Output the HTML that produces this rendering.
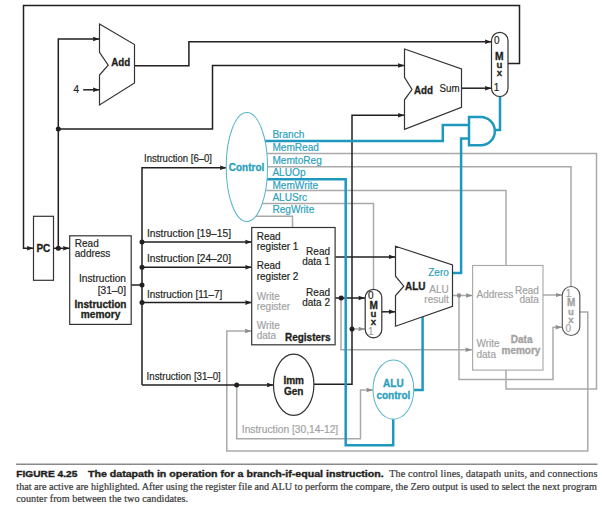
<!DOCTYPE html>
<html><head><meta charset="utf-8">
<style>
html,body{margin:0;padding:0;background:#fff;}
body{width:602px;height:508px;overflow:hidden;position:relative;}
svg{position:absolute;left:0;top:0;}
text{font-family:"Liberation Sans",sans-serif;}
.serif{font-family:"Liberation Serif",serif;}
</style></head>
<body>
<svg width="602" height="508" viewBox="0 0 602 508">
<defs>
<marker id="ak" markerWidth="7" markerHeight="6" refX="6.6" refY="3" orient="auto" markerUnits="userSpaceOnUse"><path d="M0,0.7 L6.6,3 L0,5.3 L0.6,3 z" fill="#231f20"/></marker>
<marker id="ag" markerWidth="7" markerHeight="6" refX="6.6" refY="3" orient="auto" markerUnits="userSpaceOnUse"><path d="M0,0.8 L6.6,3 L0,5.2 L0.6,3 z" fill="#8c8c8c"/></marker>
</defs>
<g fill="none" stroke="#aaaaaa" stroke-width="1.5">
<polyline points="247,153.5 596.5,153.5 596.5,389 506,389 506,370"/>
<polyline points="247,166.8 571,166.8 571,286.5"/>
<polyline points="247,190.5 506,190.5 506,265.5"/>
<polyline points="247,203.4 373.5,203.4 373.5,289.3"/>
<polyline points="247,216.3 292.5,216.3 292.5,228"/>
<polyline points="341,298 341,349.7 472,349.7" marker-end="url(#ag)"/>
<polyline points="452.5,295.5 472.5,295.5" marker-end="url(#ag)"/>
<polyline points="459,295.5 459,379.5 553,379.5 553,327.3 562,327.3" marker-end="url(#ag)"/>
<polyline points="543,295 562.3,295" marker-end="url(#ag)"/>
<polyline points="580,312 587.8,312 587.8,451 226.8,451 226.8,331 251.5,331" marker-end="url(#ag)"/>
<polyline points="352,329 365,329" marker-end="url(#ag)"/>
<polyline points="236.7,385 236.7,438.7 360.5,438.7 360.5,390 373,390" marker-end="url(#ag)"/>
</g>
<g fill="none" stroke="#231f20" stroke-width="1.5">
<polyline points="508,63.5 519.5,63.5 519.5,5.6 23.5,5.6 23.5,248.3 33.5,248.3" marker-end="url(#ak)"/>
<polyline points="53.5,248.3 69.6,248.3" marker-end="url(#ak)"/>
<polyline points="58.3,248.3 58.3,39 99.5,39" marker-end="url(#ak)"/>
<polyline points="58.3,129 212.5,129 212.5,65.6 404.5,65.6" marker-end="url(#ak)"/>
<polyline points="83.2,89.8 99.5,89.8" marker-end="url(#ak)"/>
<polyline points="134.5,65.7 188.9,65.7 188.9,41.8 491.5,41.8" marker-end="url(#ak)"/>
<polyline points="461.5,88.2 491.5,88.2" marker-end="url(#ak)"/>
<polyline points="131,285 142,285"/>
<polyline points="142,385 142,167.7 226.5,167.7" marker-end="url(#ak)"/>
<polyline points="142,385 273.5,385" marker-end="url(#ak)"/>
<polyline points="142,242 251.8,242" marker-end="url(#ak)"/>
<polyline points="142,267.3 251.8,267.3" marker-end="url(#ak)"/>
<polyline points="142,302.6 251.8,302.6" marker-end="url(#ak)"/>
<polyline points="313.8,384.3 352,384.3 352,115.2 404.5,115.2" marker-end="url(#ak)"/>
<polyline points="335.3,256.9 395.3,256.9" marker-end="url(#ak)"/>
<polyline points="335.3,298 365,298" marker-end="url(#ak)"/>
<polyline points="381.8,311.8 395.3,311.8" marker-end="url(#ak)"/>
</g>
<g fill="#231f20">
<circle cx="58.3" cy="248.3" r="2.5"/>
<circle cx="58.3" cy="129" r="2.5"/>
<circle cx="142" cy="242" r="2.5"/>
<circle cx="142" cy="267.3" r="2.5"/>
<circle cx="142" cy="285" r="2.5"/>
<circle cx="142" cy="302.6" r="2.5"/>
<circle cx="236.7" cy="385" r="2.5"/>
<circle cx="341.2" cy="298" r="2.5"/>
<circle cx="352" cy="329" r="2.5"/>
</g>
<circle cx="459" cy="295.5" r="2.2" fill="#8c8c8c"/>
<g fill="none" stroke="#1f98bd" stroke-width="2.5">
<polyline points="247,140.9 442.8,140.9 442.8,125 469,125"/>
<polyline points="452.5,273 461.1,273 461.1,138.4 469,138.4"/>
<polyline points="494,130 500,130 500,96.5"/>
<polyline points="247,179.3 345.7,179.3 345.7,445.3 393.2,445.3 393.2,419"/>
<polyline points="413.7,390 422.6,390 422.6,316.5"/>
<path d="M469,117 H480.7 A14.15,14.15 0 0 1 480.7,145.3 H469 Z"/>
</g>
<g fill="#fff" stroke="#333" stroke-width="1.2">
<polygon points="99.5,24 134.5,44.5 134.5,83 99.5,105 99.5,75 108.2,65.2 99.5,52.4"/>
<polygon points="404.5,49 461.5,69 461.5,107.4 404.5,129.4 404.5,99.8 412,89.5 404.5,77.4"/>
<polygon points="395.5,246.2 452.5,265 452.5,306.2 395.5,326.2 395.5,295.5 403.8,286.2 395.5,276.2"/>
<rect x="33.5" y="216.3" width="20" height="64"/>
<rect x="69.7" y="235.8" width="61.5" height="88.6"/>
<rect x="251.7" y="227.5" width="83.4" height="117.3"/>
<rect x="491.5" y="32.3" width="16.5" height="64.2" rx="8.25"/>
<rect x="365.2" y="289.3" width="16.6" height="48.5" rx="8.3"/>
<ellipse cx="293.7" cy="384.8" rx="20.2" ry="30.6"/>
</g>
<rect x="472.6" y="265.5" width="70.4" height="104.6" fill="#fff" stroke="#aaaaaa" stroke-width="1.15"/>
<rect x="562.3" y="286.5" width="17.5" height="49" rx="8.75" fill="#fff" stroke="#5a5a5a" stroke-width="1.2"/>
<g fill="#fff" stroke="#5cb6cb" stroke-width="1.05">
<ellipse cx="246.9" cy="167" rx="20.7" ry="54.5"/>
<ellipse cx="393.4" cy="389.6" rx="20.4" ry="29.6"/>
</g>
<text x="111.2" y="65.8" font-size="10" fill="#231f20" stroke="#231f20" stroke-width="0.3" font-weight="bold" textLength="19" lengthAdjust="spacingAndGlyphs">Add</text>
<text x="73.4" y="93.3" font-size="10" fill="#231f20" stroke="#231f20" stroke-width="0.18">4</text>
<text x="414" y="93.7" font-size="10" fill="#231f20" stroke="#231f20" stroke-width="0.3" font-weight="bold" textLength="19" lengthAdjust="spacingAndGlyphs">Add</text>
<text x="439.5" y="92" font-size="10" fill="#231f20" stroke="#231f20" stroke-width="0.18" textLength="20" lengthAdjust="spacingAndGlyphs">Sum</text>
<text x="496.8" y="43.5" font-size="10" fill="#231f20" stroke="#231f20" stroke-width="0.18" text-anchor="middle">0</text>
<text x="499.4" y="59.8" font-size="10.3" fill="#231f20" stroke="#231f20" stroke-width="0.3" text-anchor="middle" font-weight="bold">M</text>
<text x="499.4" y="68.4" font-size="9.6" fill="#231f20" stroke="#231f20" stroke-width="0.3" text-anchor="middle" font-weight="bold">u</text>
<text x="499.5" y="75.9" font-size="9.6" fill="#231f20" stroke="#231f20" stroke-width="0.3" text-anchor="middle" font-weight="bold">x</text>
<text x="496.6" y="90.8" font-size="10" fill="#231f20" stroke="#231f20" stroke-width="0.18" text-anchor="middle">1</text>
<text x="246.5" y="170.5" font-size="10" fill="#2ba0bd" stroke="#2ba0bd" stroke-width="0.3" text-anchor="middle" font-weight="bold">Control</text>
<text x="272.4" y="137.7" font-size="10.1" fill="#2ba0bd" stroke="#2ba0bd" stroke-width="0.18">Branch</text>
<text x="272.4" y="150.5" font-size="10.1" fill="#2ba0bd" stroke="#2ba0bd" stroke-width="0.18">MemRead</text>
<text x="272.4" y="163.7" font-size="10.1" fill="#2ba0bd" stroke="#2ba0bd" stroke-width="0.18">MemtoReg</text>
<text x="272.4" y="176.3" font-size="10.1" fill="#2ba0bd" stroke="#2ba0bd" stroke-width="0.18">ALUOp</text>
<text x="272.4" y="188.9" font-size="10.1" fill="#2ba0bd" stroke="#2ba0bd" stroke-width="0.18">MemWrite</text>
<text x="272.4" y="201" font-size="10.1" fill="#2ba0bd" stroke="#2ba0bd" stroke-width="0.18">ALUSrc</text>
<text x="272.4" y="213" font-size="10.1" fill="#2ba0bd" stroke="#2ba0bd" stroke-width="0.18">RegWrite</text>
<text x="144" y="162.4" font-size="10" fill="#231f20" stroke="#231f20" stroke-width="0.18" textLength="68" lengthAdjust="spacingAndGlyphs">Instruction [6–0]</text>
<text x="43.4" y="251.6" font-size="10" fill="#231f20" stroke="#231f20" stroke-width="0.3" text-anchor="middle" font-weight="bold">PC</text>
<text x="74.8" y="246.7" font-size="10" fill="#231f20" stroke="#231f20" stroke-width="0.18">Read</text>
<text x="74.8" y="256.6" font-size="10" fill="#231f20" stroke="#231f20" stroke-width="0.18">address</text>
<text x="126" y="282.1" font-size="10.2" fill="#231f20" stroke="#231f20" stroke-width="0.18" text-anchor="end">Instruction</text>
<text x="126" y="293.8" font-size="10.2" fill="#231f20" stroke="#231f20" stroke-width="0.18" text-anchor="end">[31–0]</text>
<text x="100.5" y="307.6" font-size="10" fill="#231f20" stroke="#231f20" stroke-width="0.3" text-anchor="middle" font-weight="bold" textLength="52" lengthAdjust="spacingAndGlyphs">Instruction</text>
<text x="100.5" y="318.2" font-size="10.2" fill="#231f20" stroke="#231f20" stroke-width="0.3" text-anchor="middle" font-weight="bold">memory</text>
<text x="147" y="236.6" font-size="10" fill="#231f20" stroke="#231f20" stroke-width="0.18" textLength="84" lengthAdjust="spacingAndGlyphs">Instruction [19–15]</text>
<text x="147" y="262" font-size="10" fill="#231f20" stroke="#231f20" stroke-width="0.18" textLength="84" lengthAdjust="spacingAndGlyphs">Instruction [24–20]</text>
<text x="147" y="297.7" font-size="10" fill="#231f20" stroke="#231f20" stroke-width="0.18" textLength="75.2" lengthAdjust="spacingAndGlyphs">Instruction [11–7]</text>
<text x="256.7" y="240.3" font-size="10" fill="#231f20" stroke="#231f20" stroke-width="0.18">Read</text>
<text x="256.7" y="250.1" font-size="10" fill="#231f20" stroke="#231f20" stroke-width="0.18">register 1</text>
<text x="256.7" y="269.3" font-size="10" fill="#231f20" stroke="#231f20" stroke-width="0.18">Read</text>
<text x="256.7" y="280" font-size="10" fill="#231f20" stroke="#231f20" stroke-width="0.18">register 2</text>
<text x="256.7" y="300" font-size="10" fill="#a2a2a2" stroke="#a2a2a2" stroke-width="0.18">Write</text>
<text x="256.7" y="310" font-size="10" fill="#a2a2a2" stroke="#a2a2a2" stroke-width="0.18">register</text>
<text x="256.7" y="329.4" font-size="10" fill="#a2a2a2" stroke="#a2a2a2" stroke-width="0.18">Write</text>
<text x="256.7" y="339" font-size="10" fill="#a2a2a2" stroke="#a2a2a2" stroke-width="0.18">data</text>
<text x="330" y="254.6" font-size="10" fill="#231f20" stroke="#231f20" stroke-width="0.18" text-anchor="end">Read</text>
<text x="330" y="264.6" font-size="10" fill="#231f20" stroke="#231f20" stroke-width="0.18" text-anchor="end">data 1</text>
<text x="330" y="295.9" font-size="10" fill="#231f20" stroke="#231f20" stroke-width="0.18" text-anchor="end">Read</text>
<text x="330" y="306.4" font-size="10" fill="#231f20" stroke="#231f20" stroke-width="0.18" text-anchor="end">data 2</text>
<text x="330.5" y="341" font-size="10" fill="#231f20" stroke="#231f20" stroke-width="0.3" text-anchor="end" font-weight="bold">Registers</text>
<text x="370.8" y="299" font-size="10" fill="#231f20" stroke="#231f20" stroke-width="0.18" text-anchor="middle">0</text>
<text x="373.6" y="309.2" font-size="10" fill="#231f20" stroke="#231f20" stroke-width="0.3" text-anchor="middle" font-weight="bold">M</text>
<text x="373.4" y="316.6" font-size="9.6" fill="#231f20" stroke="#231f20" stroke-width="0.3" text-anchor="middle" font-weight="bold">u</text>
<text x="373.4" y="324.9" font-size="9.6" fill="#231f20" stroke="#231f20" stroke-width="0.3" text-anchor="middle" font-weight="bold">x</text>
<text x="370.7" y="335" font-size="10" fill="#a2a2a2" stroke="#a2a2a2" stroke-width="0.18" text-anchor="middle">1</text>
<text x="448.8" y="275.7" font-size="10" fill="#2ba0bd" stroke="#2ba0bd" stroke-width="0.18" text-anchor="end">Zero</text>
<text x="405" y="290" font-size="10" fill="#231f20" stroke="#231f20" stroke-width="0.3" font-weight="bold">ALU</text>
<text x="448.8" y="293.1" font-size="10" fill="#a2a2a2" stroke="#a2a2a2" stroke-width="0.18" text-anchor="end">ALU</text>
<text x="448.8" y="303" font-size="10" fill="#a2a2a2" stroke="#a2a2a2" stroke-width="0.18" text-anchor="end">result</text>
<text x="476.5" y="298.1" font-size="10" fill="#a2a2a2" stroke="#a2a2a2" stroke-width="0.18">Address</text>
<text x="538.9" y="293.6" font-size="10" fill="#a2a2a2" stroke="#a2a2a2" stroke-width="0.18" text-anchor="end">Read</text>
<text x="538.9" y="303" font-size="10" fill="#a2a2a2" stroke="#a2a2a2" stroke-width="0.18" text-anchor="end">data</text>
<text x="476.5" y="347.3" font-size="10" fill="#a2a2a2" stroke="#a2a2a2" stroke-width="0.18">Write</text>
<text x="476.5" y="357.8" font-size="10" fill="#a2a2a2" stroke="#a2a2a2" stroke-width="0.18">data</text>
<text x="532.5" y="343.2" font-size="10" fill="#a2a2a2" stroke="#a2a2a2" stroke-width="0.3" text-anchor="end" font-weight="bold">Data</text>
<text x="540.4" y="353.8" font-size="10" fill="#a2a2a2" stroke="#a2a2a2" stroke-width="0.3" text-anchor="end" font-weight="bold">memory</text>
<text x="568.6" y="296.5" font-size="10" fill="#a2a2a2" stroke="#a2a2a2" stroke-width="0.18" text-anchor="middle">1</text>
<text x="571.2" y="306.2" font-size="10" fill="#a2a2a2" stroke="#a2a2a2" stroke-width="0.3" text-anchor="middle" font-weight="bold">M</text>
<text x="571" y="314.9" font-size="9.6" fill="#a2a2a2" stroke="#a2a2a2" stroke-width="0.3" text-anchor="middle" font-weight="bold">u</text>
<text x="571" y="323.1" font-size="9.6" fill="#a2a2a2" stroke="#a2a2a2" stroke-width="0.3" text-anchor="middle" font-weight="bold">x</text>
<text x="568.3" y="332" font-size="10" fill="#a2a2a2" stroke="#a2a2a2" stroke-width="0.18" text-anchor="middle">0</text>
<text x="146.6" y="380" font-size="10" fill="#231f20" stroke="#231f20" stroke-width="0.18" textLength="74.2" lengthAdjust="spacingAndGlyphs">Instruction [31–0]</text>
<text x="293.7" y="383.5" font-size="10" fill="#231f20" stroke="#231f20" stroke-width="0.3" text-anchor="middle" font-weight="bold">Imm</text>
<text x="293.7" y="395" font-size="10" fill="#231f20" stroke="#231f20" stroke-width="0.3" text-anchor="middle" font-weight="bold">Gen</text>
<text x="393.4" y="387" font-size="10" fill="#2ba0bd" stroke="#2ba0bd" stroke-width="0.3" text-anchor="middle" font-weight="bold">ALU</text>
<text x="393.4" y="398.7" font-size="10" fill="#2ba0bd" stroke="#2ba0bd" stroke-width="0.3" text-anchor="middle" font-weight="bold">control</text>
<text x="241.8" y="432.5" font-size="10" fill="#a2a2a2" stroke="#a2a2a2" stroke-width="0.18" textLength="96.4" lengthAdjust="spacingAndGlyphs">Instruction [30,14-12]</text>
<line x1="16" y1="464.2" x2="597.5" y2="464.2" stroke="#8a8a8a" stroke-width="1.4"/>
<text x="16.3" y="477" font-size="9.2" font-weight="bold" fill="#231f20" stroke="#231f20" stroke-width="0.35" textLength="61" lengthAdjust="spacingAndGlyphs">FIGURE 4.25</text>
<text x="88" y="477" font-size="9.2" font-weight="bold" fill="#231f20" stroke="#231f20" stroke-width="0.35" textLength="295.7" lengthAdjust="spacingAndGlyphs">The datapath in operation for a branch-if-equal instruction.</text>
<text class="serif" x="389.2" y="477.4" font-size="10.2" fill="#3b3b3b" stroke="#3b3b3b" stroke-width="0.22" textLength="208.3" lengthAdjust="spacing">The control lines, datapath units, and connections</text>
<text class="serif" x="16.3" y="489.7" font-size="10.2" fill="#3b3b3b" stroke="#3b3b3b" stroke-width="0.22" textLength="580.6" lengthAdjust="spacing">that are active are highlighted. After using the register file and ALU to perform the compare, the Zero output is used to select the next program</text>
<text class="serif" x="16.3" y="501.6" font-size="10.2" fill="#3b3b3b" stroke="#3b3b3b" stroke-width="0.22" textLength="171.8" lengthAdjust="spacing">counter from between the two candidates.</text>
</svg>
</body></html>
